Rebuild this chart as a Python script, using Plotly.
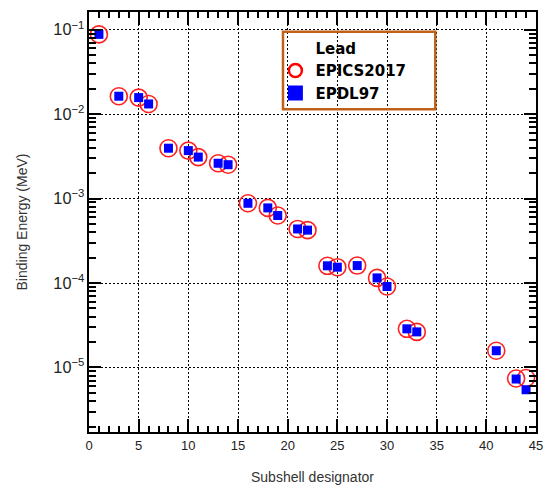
import plotly.graph_objects as go

# Subshell designators (ENDF numbering) for lead
subshells = [1, 3, 5, 6, 8, 10, 11, 13, 14, 16, 18, 19, 21, 22, 24, 25, 27, 29, 30, 32, 33, 41, 43, 44]

# Binding energies (MeV)
epdl97 = [0.0880, 0.0163, 0.0157, 0.0132, 0.00395, 0.0037, 0.0031, 0.00262, 0.00252,
          0.00088, 0.000776, 0.00063, 0.000437, 0.000423, 0.000160, 0.000154, 0.000161,
          0.000115, 9.1e-5, 2.87e-5, 2.64e-5, 1.58e-5, 7.3e-6, 5.45e-6]
epics2017 = [0.0880, 0.0163, 0.0157, 0.0132, 0.00395, 0.0037, 0.0031, 0.00262, 0.00252,
             0.00088, 0.000776, 0.00063, 0.000437, 0.000423, 0.000160, 0.000154, 0.000161,
             0.000115, 9.1e-5, 2.87e-5, 2.64e-5, 1.58e-5, 7.4e-6, 7.5e-6]

legend_title = "Lead"
name_epics = "EPICS2017"
name_epdl = "EPDL97"

fig = go.Figure()

fig.add_trace(go.Scatter(
    x=subshells, y=epics2017, mode="markers", showlegend=False,
    marker=dict(symbol="circle-open", size=17, color="#ff2020", line=dict(width=1.6, color="#ff2020")),
))
fig.add_trace(go.Scatter(
    x=subshells, y=epdl97, mode="markers", showlegend=False,
    marker=dict(symbol="square", size=9, color="#0000ff", line=dict(width=0)),
))

# legend entries
fig.add_trace(go.Scatter(x=[None], y=[None], mode="markers", name=legend_title,
                         marker=dict(size=1, color="rgba(0,0,0,0)")))
fig.add_trace(go.Scatter(x=[None], y=[None], mode="markers", name=name_epics,
                         marker=dict(symbol="circle-open", size=13, color="#ff0000",
                                     line=dict(width=2.5, color="#ff0000"))))
fig.add_trace(go.Scatter(x=[None], y=[None], mode="markers", name=name_epdl,
                         marker=dict(symbol="square", size=15, color="#0000ff")))

axis_common = dict(
    showline=True, linecolor="black", linewidth=2, mirror="ticks",
    ticks="inside", tickcolor="black", tickwidth=2,
    showgrid=True, gridcolor="black", griddash="1.5px,2.5px", gridwidth=1.2,
    zeroline=False, automargin=False, layer="above traces",
    tickfont=dict(family="Liberation Sans, Arial", size=13, color="#222222"),
)

fig.update_xaxes(
    **axis_common, range=[0, 45], dtick=5, tick0=0, ticklen=13,
    minor=dict(dtick=1, ticks="inside", ticklen=6, tickcolor="black", tickwidth=1.5, showgrid=False),
    title=dict(text="Subshell designator", standoff=21,
               font=dict(family="Liberation Sans, Arial", size=14, color="#333333")),
)
fig.update_yaxes(
    **axis_common, type="log", range=[-5.764, -0.7905], dtick=1, ticklen=12,
    exponentformat="power", showexponent="all",
    minor=dict(dtick="D1", ticks="inside", ticklen=7, tickcolor="black", tickwidth=1.5, showgrid=False),
    title=dict(text="Binding Energy (MeV)", standoff=22,
               font=dict(family="Liberation Sans, Arial", size=14, color="#333333")),
)

fig.add_shape(type="rect", xref="paper", yref="paper",
              x0=0.434, x1=0.7747, y0=0.7685, y1=0.9531,
              line=dict(color="#c0601a", width=2.5), fillcolor="rgba(0,0,0,0)")

fig.update_layout(
    width=546, height=491,
    margin=dict(l=89, r=10, t=12, b=59),
    paper_bgcolor="white", plot_bgcolor="white",
    legend=dict(
        x=0.417, y=0.953, xanchor="left", yanchor="top",
        bgcolor="rgba(0,0,0,0)", borderwidth=0,
        font=dict(family="DejaVu Sans", size=15, color="black", weight="bold"),
        tracegroupgap=0, itemsizing="trace",
    ),
)

fig.write_html(
    "out.html",
    config={"displayModeBar": False},
    post_script="document.body.style.margin='0';document.body.style.overflow='hidden';",
)
